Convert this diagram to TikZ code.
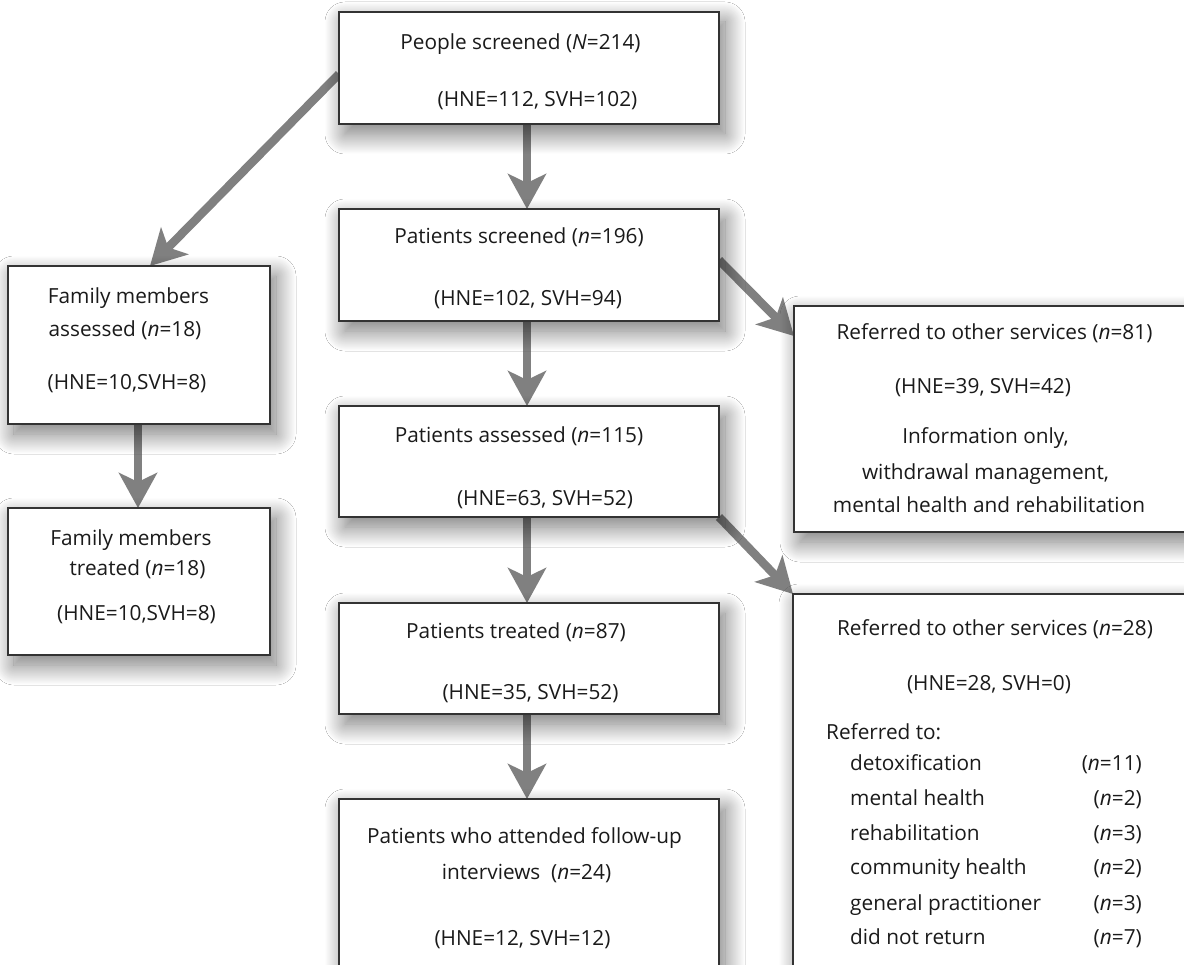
\documentclass[tikz,border=0pt]{standalone}
\usepackage{fontspec}
\setmainfont{Open Sans}
\usetikzlibrary{arrows.meta,shadows.blur}
\definecolor{arrowgray}{HTML}{808080}
\definecolor{boxline}{HTML}{333333}
\definecolor{textcol}{HTML}{1A1A1A}
\pgfdeclarelayer{background}
\pgfsetlayers{background,main}
\begin{document}
\begin{tikzpicture}[x=1pt,y=-1pt,
  box/.style={draw=boxline, line width=1.5pt, fill=white, rectangle,
    inner sep=0pt, outer sep=0pt, anchor=north west,
    blur shadow={shadow xshift=6pt, shadow yshift=-10pt, shadow blur radius=20pt,
      shadow blur steps=30, shadow opacity=55}},
  flow/.style={draw=arrowgray, line width=8.5pt,
    -{Stealth[length=35pt,width=38pt,inset=9pt]}},
  txt/.style={font=\fontsize{20.8}{26}\selectfont, text=textcol, inner sep=0pt,
    text height=16pt, text depth=2pt}]
\useasboundingbox (0,0) rectangle (1184,965);
\clip (0,0) rectangle (1184,965);

% boxes
\node[box, minimum width=380pt, minimum height=112pt] (top) at (339,12) {};
\node[box, minimum width=380pt, minimum height=112pt] (ps) at (339,209) {};
\node[box, minimum width=380pt, minimum height=111pt] (pa) at (339,406) {};
\node[box, minimum width=380pt, minimum height=111pt] (pt) at (339,603) {};
\node[box, minimum width=380pt, minimum height=220pt] (pf) at (339,799) {};
\node[box, minimum width=262pt, minimum height=158pt] (fa) at (8,266) {};
\node[box, minimum width=262pt, minimum height=147pt] (ft) at (8,508) {};
\node[box, minimum width=405pt, minimum height=226pt] (ra) at (794,306) {};
\node[box, minimum width=405pt, minimum height=420pt] (rb) at (793,594) {};

% connectors
\begin{pgfonlayer}{background}
\fill[white] (0,0) rectangle (1184,965);
\draw[flow] ([xshift=-2pt]top.south) -- ([xshift=-2pt]ps.north);
\draw[flow] ([xshift=-2pt]ps.south) -- ([xshift=-2pt]pa.north);
\draw[flow] ([xshift=-2pt]pa.south) -- ([xshift=-2pt]pt.north);
\draw[flow] ([xshift=-2pt]pt.south) -- ([xshift=-2pt]pf.north);
\draw[flow] ([yshift=-6pt]top.west) -- ([xshift=11pt]fa.north);
\draw[flow] ([xshift=-1pt]fa.south) -- ([xshift=-1pt]ft.north);
\draw[flow] ([yshift=5pt]ps.east) -- ([yshift=-30pt]ra.north west);
\draw[flow] (pa.south east) -- (rb.north west);
\end{pgfonlayer}

% texts
\node[txt] (t1a) at (520.5,43) {People screened (\textit{N}=214)};
\node[txt] (t1b) at (537.5,100) {(HNE=112, SVH=102)};
\node[txt] (t2a) at (519,237) {Patients screened (\textit{n}=196)};
\node[txt] (t2b) at (528,299) {(HNE=102, SVH=94)};
\node[txt] (t3a) at (519,436) {Patients assessed (\textit{n}=115)};
\node[txt] (t3b) at (545,498) {(HNE=63, SVH=52)};
\node[txt] (t4a) at (516,631) {Patients treated (\textit{n}=87)};
\node[txt] (t4b) at (530.5,692) {(HNE=35, SVH=52)};
\node[txt] (t5a) at (524.5,836) {Patients who attended follow-up};
\node[txt] (t5b) at (526.5,872) {interviews\ \ (\textit{n}=24)};
\node[txt] (t5c) at (522.5,938) {(HNE=12, SVH=12)};

\node[txt] (f1a) at (128.5,297) {Family members};
\node[txt] (f1b) at (125,330) {assessed (\textit{n}=18)};
\node[txt] (f1c) at (127,383) {(HNE=10,SVH=8)};
\node[txt] (f2a) at (131,538) {Family members};
\node[txt] (f2b) at (137.5,568) {treated (\textit{n}=18)};
\node[txt] (f2c) at (136.5,613) {(HNE=10,SVH=8)};

\node[txt] (r1a) at (994.5,333) {Referred to other services (\textit{n}=81)};
\node[txt] (r1b) at (983,387) {(HNE=39, SVH=42)};
\node[txt] (r1c) at (985.5,437) {Information only,};
\node[txt] (r1d) at (985.5,472) {withdrawal management,};
\node[txt] (r1e) at (989,505) {mental health and rehabilitation};

\node[txt] (r2a) at (995,628) {Referred to other services (\textit{n}=28)};
\node[txt] (r2b) at (989,683) {(HNE=28, SVH=0)};
\node[txt, anchor=west] (r2c) at (826,732) {Referred to:};
\node[txt, anchor=west] (l1) at (850,763) {detoxification};
\node[txt, anchor=west] (l2) at (850,798) {mental health};
\node[txt, anchor=west] (l3) at (850,833) {rehabilitation};
\node[txt, anchor=west] (l4) at (850,867) {community health};
\node[txt, anchor=west] (l5) at (850,903) {general practitioner};
\node[txt, anchor=west] (l6) at (850,937) {did not return};
\node[txt, anchor=east] (v1) at (1142,763) {(\textit{n}=11)};
\node[txt, anchor=east] (v2) at (1142,798) {(\textit{n}=2)};
\node[txt, anchor=east] (v3) at (1142,833) {(\textit{n}=3)};
\node[txt, anchor=east] (v4) at (1142,867) {(\textit{n}=2)};
\node[txt, anchor=east] (v5) at (1142,903) {(\textit{n}=3)};
\node[txt, anchor=east] (v6) at (1142,937) {(\textit{n}=7)};
\end{tikzpicture}
\end{document}
